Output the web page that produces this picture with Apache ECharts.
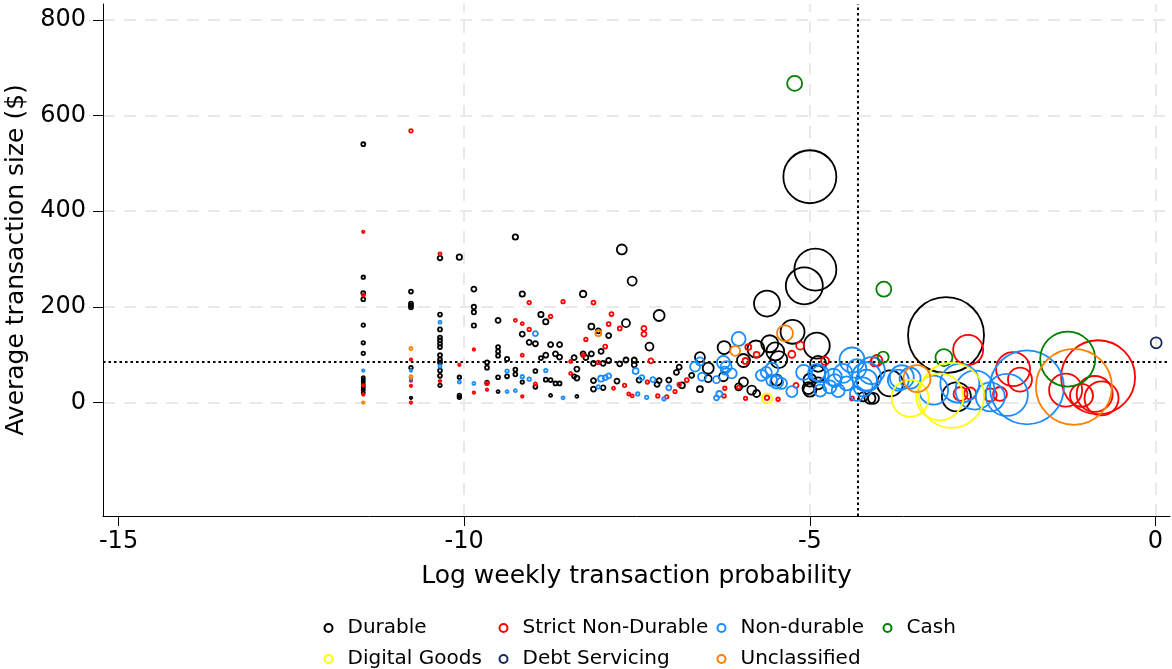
<!DOCTYPE html>
<html><head><meta charset="utf-8">
<script src="https://cdn.jsdelivr.net/npm/echarts@6/dist/echarts.min.js"></script>
<style>html,body{margin:0;padding:0;background:#fff}#c{width:1172px;height:669px}</style>
</head><body><div id="c"></div><script>
const xTicks = [-15, -10, -5, 0];
const yTicks = [0, 200, 400, 600, 800];
const xGridVals = [-10, -5, 0];
const yGridVals = [0, 200, 400, 600, 800];
const refX = -4.31, refY = 84.5;
const seriesNames = ['Durable','Strict Non-Durable','Non-durable','Cash','Digital Goods','Debt Servicing','Unclassified'];
const seriesColors = ['#000000','#ff0000','#1a8cff','#008000','#ffff00','#1a2b5c','#ff8000'];
// [log weekly probability, avg transaction size, weight]
const durable = [
[-11.46,540,6],[-11.46,262,5],[-11.46,229,6],[-11.46,216,6],[-11.46,162,5],[-11.46,125,5],[-11.46,103,5],[-11.46,52,4],[-11.46,48,4],[-11.46,43,4],[-11.46,38,4],[-11.46,34,4],[-11.46,30,4],[-11.46,26,4],[-11.46,20,4],
[-10.77,232,6],[-10.77,207,6],[-10.77,203,6],[-10.77,199,6],[-10.77,73,5],[-10.77,10,3],
[-10.35,302,8],[-10.35,184,6],[-10.35,153,6],[-10.35,136,6],[-10.35,130,6],[-10.35,123,6],[-10.35,116,6],[-10.35,99,6],[-10.35,90,6],[-10.35,84,6],[-10.35,67,6],[-10.35,56,6],[-10.35,36,5],
[-10.07,304,10],[-10.07,53,5],[-10.07,15,5],[-10.07,11,5],
[-9.86,237,9],[-9.86,200,7],[-9.86,189,7],[-9.86,161,7],
[-9.67,84,6],[-9.67,73,6],[-9.67,42,5],
[-9.51,172,9],[-9.51,116,6],[-9.51,107,6],[-9.51,98,6],[-9.51,53,6],[-9.51,23,4],
[-9.38,91,7],[-9.38,55,6],
[-9.26,346,10],[-9.26,69,6],[-9.26,59,6],
[-9.16,227,10],[-9.16,143,9],[-9.16,43,5],
[-9.06,126,9],
[-8.97,123,9],[-8.97,66,6],[-8.97,33,6],
[-8.89,184,10],[-8.89,93,6],
[-8.82,169,10],[-8.82,99,9],[-8.82,48,6],
[-8.75,121,9],[-8.75,47,6],[-8.75,15,4],
[-8.68,102,9],[-8.68,40,6],
[-8.62,121,9],[-8.62,95,9],[-8.62,40,6],
[-8.41,94,9],[-8.41,55,6],
[-8.37,70,9],[-8.37,51,9],[-8.37,13,4],
[-8.28,227,14],[-8.28,102,9],[-8.24,94,9],
[-8.16,159,12],[-8.16,102,9],
[-8.13,82,9],[-8.13,46,9],[-8.13,28,9],
[-8.06,150,9],[-8.02,107,9],[-7.99,82,9],[-7.99,31,8],
[-7.91,88,9],[-7.91,140,9],[-7.79,45,9],[-7.75,81,9],
[-7.72,320,30],[-7.66,166,20],[-7.66,89,9],[-7.57,254,25],
[-7.54,89,9],[-7.54,79,9],[-7.47,47,9],[-7.32,117,20],[-7.18,182,36],
[-7.21,38,9],[-7.18,46,9],[-7.04,47,9],[-6.93,63,9],[-6.89,74,9],[-6.85,36,12],[-6.71,57,9],
[-6.59,95,30],[-6.59,28,12],[-6.47,72,36],[-6.47,50,16],
[-6.24,115,49],[-6.25,54,25],[-6.03,33,16],[-5.96,43,25],[-5.96,88,49],[-5.84,26,25],[-5.77,19,16],
[-5.78,112,81],[-5.58,123,81],[-5.50,107,90],[-5.45,90,81],[-5.48,47,36],
[-5.62,207,182],[-5.25,148,156],[-4.90,119,182],[-4.88,81,72],
[-5.00,472,729],[-4.92,278,462],[-5.08,244,361],
[-5.02,30,42],[-5.00,47,49],[-5.00,26,49],[-4.90,60,81],[-4.88,40,42],
[-4.23,12,25],[-4.13,9,36],[-4.08,9,36],[-3.84,40,182],[-3.03,141,1482],[-2.88,12,225]
];
const strictNonDurable = [
[-11.46,357,3],[-11.46,225,4],[-11.46,36,3],[-11.46,17,3],
[-10.77,568,5],[-10.77,90,3],[-10.77,46,3],[-10.77,35,3],[-10.77,0,3],
[-10.35,311,4],[-10.35,45,3],[-10.07,79,3],[-9.86,111,3],[-9.86,21,3],
[-9.67,40,5],[-9.67,27,3],[-9.26,172,4],[-9.16,165,4],[-9.16,99,4],[-9.16,13,3],
[-9.06,209,5],[-9.06,153,5],[-8.97,39,4],[-8.75,180,5],[-8.57,211,5],[-8.46,86,4],[-8.46,61,4],
[-8.28,99,5],[-8.24,132,5],[-8.13,209,6],[-8.06,84,5],[-7.96,117,6],[-7.91,164,6],[-7.87,185,6],
[-7.84,30,4],[-7.75,155,6],[-7.68,36,5],[-7.62,18,4],[-7.57,14,4],[-7.40,155,9],[-7.40,143,9],
[-7.30,87,9],[-7.35,43,5],[-7.20,14,5],[-7.07,12,5],[-6.95,23,5],[-6.89,38,5],[-6.78,47,6],
[-6.23,30,5],[-6.24,14,5],[-6.03,32,5],[-5.89,116,12],[-5.77,100,12],[-5.93,87,12],[-5.93,9,5],
[-5.46,7,5],[-5.62,10,8],[-5.26,101,16],[-5.14,119,20],[-5.20,36,9],[-4.78,87,20],[-4.39,9,6],
[-4.06,85,25],[-4.03,88,36],[-2.71,110,240],[-2.82,18,56],[-2.68,19,42],[-2.39,16,49],[-2.25,18,56],
[-2.06,70,306],[-1.96,48,156],[-1.30,26,289],[-1.07,15,144],[-0.83,53,1406],[-0.88,18,342],[-0.78,9,306]
];
const nonDurable = [
[-11.46,67,3],[-10.77,67,3],[-10.77,50,3],[-10.35,168,4],[-10.35,76,4],[-10.07,43,4],[-9.86,40,4],
[-9.38,66,5],[-9.38,23,4],[-9.26,25,4],[-9.16,54,5],[-9.06,49,5],[-8.97,144,9],[-8.82,67,5],[-8.57,10,4],
[-8.06,33,5],[-8.02,50,12],[-7.96,52,9],[-7.91,56,9],[-7.52,66,12],[-7.43,52,9],[-7.27,48,9],
[-7.49,18,5],[-7.36,11,5],[-7.11,8,5],[-7.04,31,9],
[-6.66,75,30],[-6.59,86,20],[-6.56,54,20],[-6.35,48,16],[-6.35,10,9],[-6.31,18,12],
[-6.25,84,49],[-6.21,75,36],[-6.13,61,30],[-6.03,133,56],[-6.23,67,20],
[-5.70,57,36],[-5.63,63,36],[-5.55,70,49],[-5.55,46,36],[-5.48,43,49],[-5.41,40,36],[-5.26,23,36],
[-5.09,63,64],[-4.90,63,81],[-4.85,25,42],[-4.85,60,81],[-4.71,33,49],[-4.66,53,81],[-4.64,46,49],
[-4.59,25,49],[-4.52,61,100],[-4.39,89,169],[-4.32,71,100],[-4.47,40,56],[-4.32,18,56],[-4.23,33,100],
[-4.18,47,121],[-4.18,54,225],[-4.11,67,196],[-3.72,47,121],[-3.67,53,156],[-3.55,51,121],
[-3.21,26,225],[-2.83,40,400],[-2.61,26,400],[-2.39,12,225],[-2.15,16,462],[-1.86,32,1406]
];
const cash = [[-5.22,667,64],[-3.93,237,64],[-3.94,95,36],[-3.06,94,81],[-1.27,91,784]];
const digitalGoods = [[-5.62,9,30],[-3.55,9,361],[-3.12,12,576],[-2.95,15,1089]];
const debtServicing = [[0.01,125,36]];
const unclassified = [[-11.46,0,3],[-10.77,113,4],[-10.77,54,4],[-8.06,145,12],[-6.08,108,30],[-5.36,145,72],[-3.45,50,196],[-1.18,33,1482]];

const allData = [durable, strictNonDurable, nonDurable, cash, digitalGoods, debtServicing, unclassified];
const FONT = 'DejaVu Sans';
const sizeFn = d => Math.max(2, 2 * Math.sqrt(d[2]) - 1);

const chart = echarts.init(document.getElementById('c'), null, {renderer: 'canvas'});

const series = [{
  type: 'line', data: [], silent: true, z: 0, zlevel: 0, animation: false,
  markLine: {
    z: 0, silent: true, symbol: ['none','none'], animation: false, label: {show: false},
    lineStyle: {color: '#e9e9e9', type: [12, 9], width: 2},
    emphasis: {disabled: true},
    data: xGridVals.map(v => ({xAxis: v})).concat(yGridVals.map(v => ({yAxis: v})))
  }
}, {
  type: 'line', data: [], silent: true, z: 0, zlevel: 0, animation: false,
  markLine: {
    z: 1, silent: true, symbol: ['none','none'], animation: false, label: {show: false},
    lineStyle: {color: '#000', type: [2.5, 3], width: 2},
    emphasis: {disabled: true},
    data: [{xAxis: refX}, {yAxis: refY}]
  }
}];
seriesNames.forEach((n, i) => {
  series.push({
    name: n, type: 'scatter', data: allData[i], z: 3, animation: false,
    symbol: 'circle', symbolSize: sizeFn,
    itemStyle: {color: 'rgba(0,0,0,0)', borderColor: seriesColors[i], borderWidth: 1.8, opacity: 1},
    emphasis: {disabled: true}
  });
});

const legendPos = [[323.5, 618], [498.5, 618], [716.5, 618], [882.5, 618], [323.5, 649], [498.5, 649], [716.5, 649]];
const legends = seriesNames.map((n, i) => ({
  left: legendPos[i][0], top: legendPos[i][1], padding: 0, orient: 'horizontal',
  itemWidth: 28, itemHeight: 8, selectedMode: false,
  textStyle: {fontFamily: FONT, fontSize: 20, color: '#000'},
  data: [{name: n, icon: 'circle', itemStyle: {color: 'rgba(0,0,0,0)', borderColor: seriesColors[i], borderWidth: 2}}]
}));

chart.setOption({
  backgroundColor: '#fff',
  animation: false,
  grid: {left: 103, right: 2, top: 4, bottom: 153, containLabel: false, outerBoundsMode: 'none'},
  legend: legends,
  xAxis: {
    type: 'value', min: -15.225, max: 0.21,
    name: 'Log weekly transaction probability', nameLocation: 'middle', nameGap: 48,
    nameTextStyle: {fontFamily: FONT, fontSize: 25, color: '#000'},
    axisLine: {show: true, onZero: false, lineStyle: {color: '#000', width: 1}},
    axisTick: {show: true, length: 10, customValues: xTicks, lineStyle: {color: '#000', width: 1}},
    axisLabel: {fontFamily: FONT, fontSize: 24, color: '#000', margin: 14, customValues: xTicks, formatter: v => String(v)},
    splitLine: {show: false}
  },
  yAxis: {
    type: 'value', min: -237, max: 833,
    name: 'Average transaction size ($)', nameLocation: 'middle', nameGap: 74, nameRotate: 90,
    nameTextStyle: {fontFamily: FONT, fontSize: 25, color: '#000'},
    axisLine: {show: true, onZero: false, lineStyle: {color: '#000', width: 1}},
    axisTick: {show: true, length: 10, customValues: yTicks, lineStyle: {color: '#000', width: 1}},
    axisLabel: {fontFamily: FONT, fontSize: 24, color: '#000', margin: 17, customValues: yTicks},
    splitLine: {show: false}
  },
  series: series
});
</script></body></html>
